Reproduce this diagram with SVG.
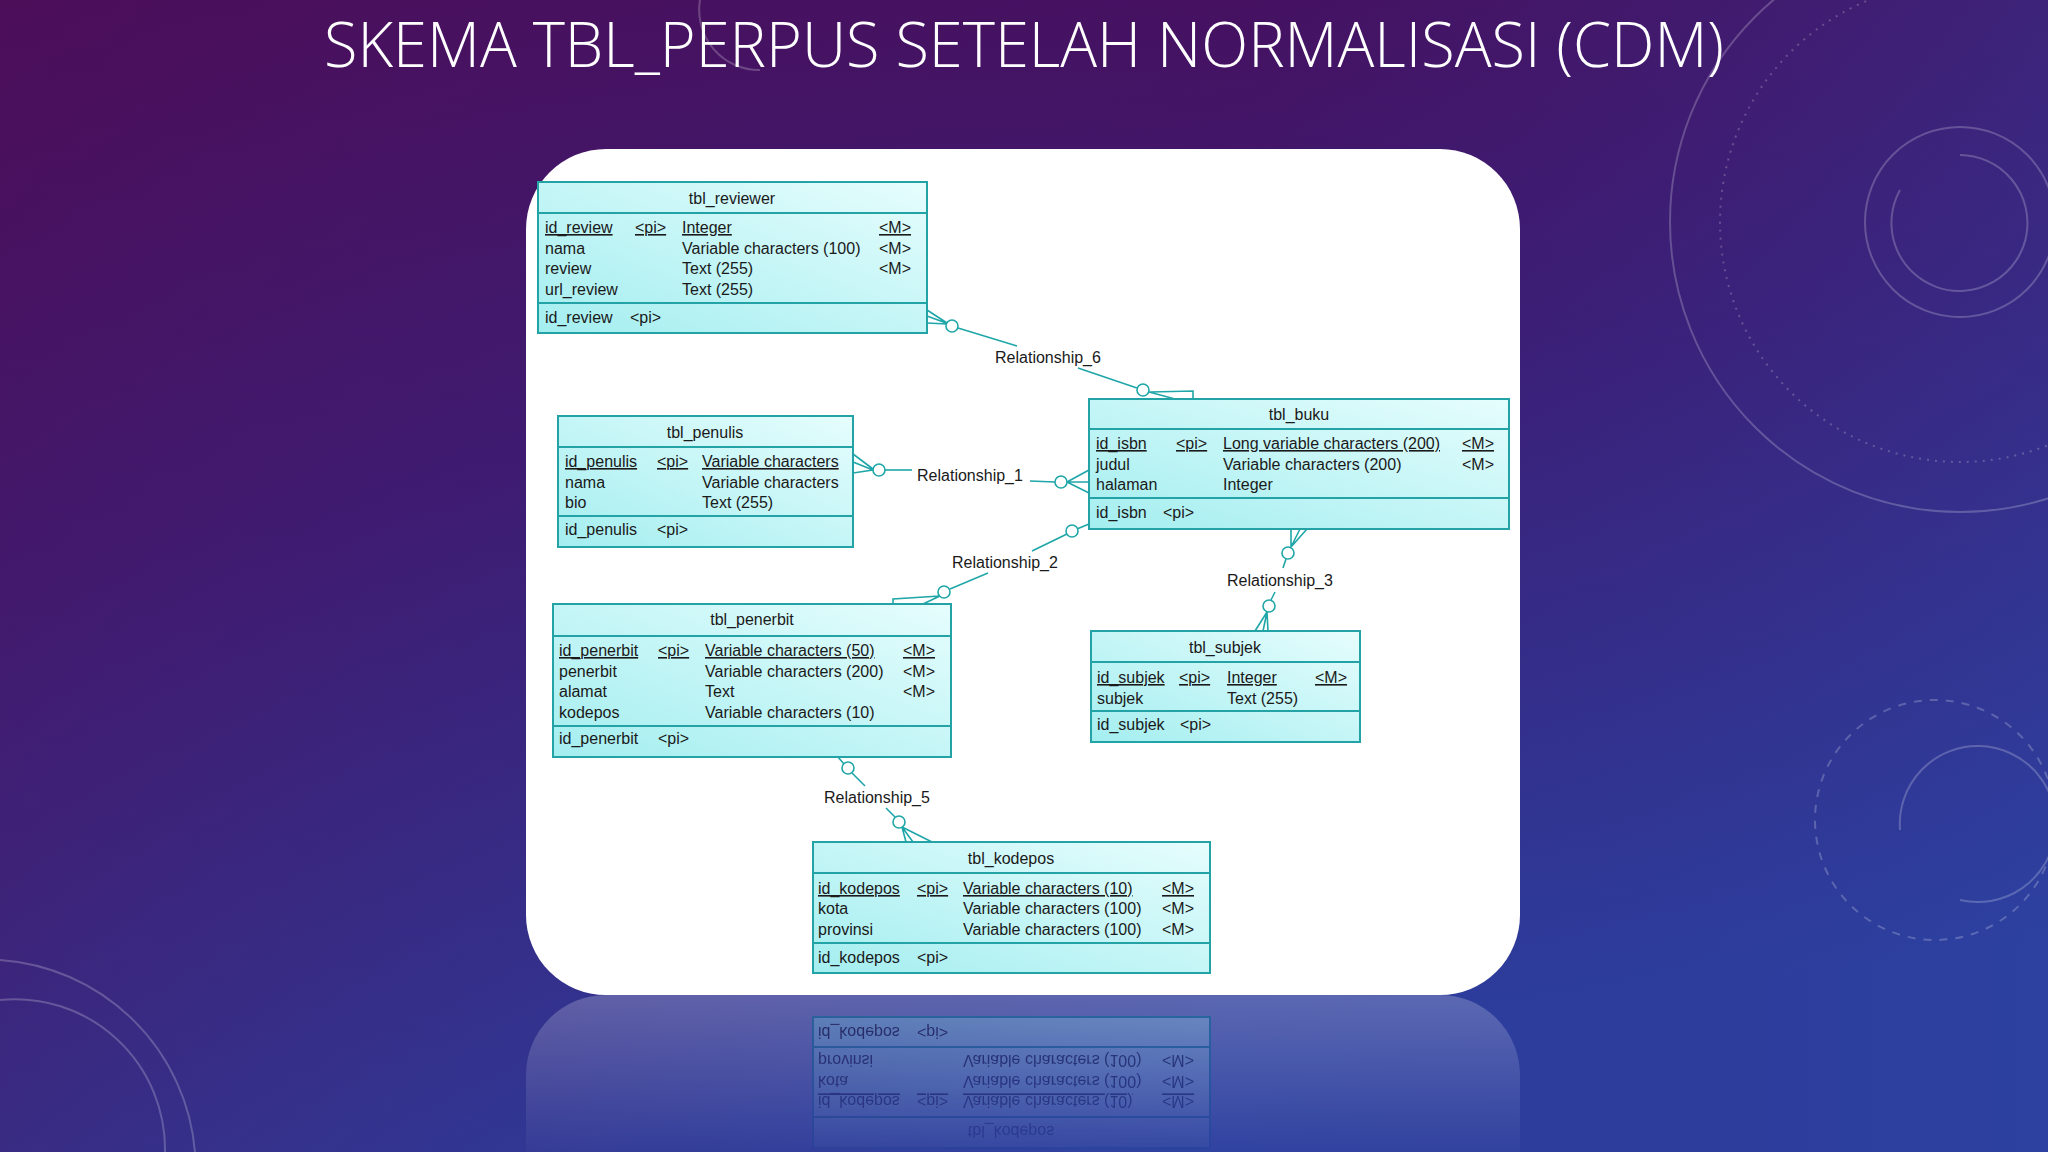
<svg xmlns="http://www.w3.org/2000/svg" xmlns:xlink="http://www.w3.org/1999/xlink" width="2048" height="1152" viewBox="0 0 2048 1152">
<defs>
<linearGradient id="bg" x1="0" y1="0" x2="0.25" y2="1">
<stop offset="0" stop-color="#4a0c58"/>
<stop offset="0.45" stop-color="#3c1c74"/>
<stop offset="1" stop-color="#2b3e9e"/>
</linearGradient>
<linearGradient id="bg2" x1="0" y1="0" x2="1" y2="0">
<stop offset="0" stop-color="#50105a" stop-opacity="0.35"/>
<stop offset="0.6" stop-color="#3a2a80" stop-opacity="0"/>
<stop offset="1" stop-color="#3048a8" stop-opacity="0.3"/>
</linearGradient>
<linearGradient id="tbl" x1="0" y1="1" x2="1" y2="0">
<stop offset="0" stop-color="#a4eef0"/>
<stop offset="1" stop-color="#e6fdfd"/>
</linearGradient>
<linearGradient id="fade" x1="0" y1="0" x2="0" y2="1">
<stop offset="0" stop-color="#fff" stop-opacity="0.45"/>
<stop offset="1" stop-color="#fff" stop-opacity="0.05"/>
</linearGradient>
<mask id="refmask" maskUnits="userSpaceOnUse" x="0" y="995" width="2048" height="157">
<rect x="0" y="995" width="2048" height="157" fill="url(#fade)"/>
</mask>
<style>
.tb rect{fill:url(#tbl);stroke:#23a3a6;stroke-width:2}
.tb line{stroke:#23a3a6;stroke-width:2}
.tb text{font-family:"Liberation Sans",Arial,sans-serif;font-size:16px;fill:#1a1a1a}
.tb .t{text-anchor:middle}
.tb .u{text-decoration:underline}
.cn path,.cn line{stroke:#1fa6a8;stroke-width:1.6;fill:none}
.cn circle{stroke:#1fa6a8;stroke-width:1.6;fill:#fff}
.cn text{font-family:"Liberation Sans",Arial,sans-serif;font-size:16px;fill:#1a1a1a;text-anchor:middle}
.deco{fill:none;stroke:#ffffff;stroke-opacity:0.22;stroke-width:2}
</style>
</defs>
<rect width="2048" height="1152" fill="url(#bg)"/>
<rect width="2048" height="1152" fill="url(#bg2)"/>
<g id="decor">
<circle class="deco" cx="1960" cy="222" r="290"/>
<circle class="deco" cx="1960" cy="222" r="240" stroke-dasharray="2 6" stroke-width="10" stroke-opacity="0.12"/>
<path class="deco" d="M1960 155 A68 68 0 1 1 1900 190" stroke-width="3"/>
<circle class="deco" cx="1960" cy="222" r="95"/>
<path class="deco" d="M1900 830 A78 78 0 1 1 1960 900" stroke-width="3"/>
<circle class="deco" cx="1935" cy="820" r="120" stroke-dasharray="8 8"/>
<path class="deco" d="M0 1000 A150 150 0 0 1 165 1152" stroke-width="3"/>
<path class="deco" d="M0 960 A210 210 0 0 1 195 1152"/>
<path class="deco" d="M700 0 A60 60 0 0 0 760 70" stroke-opacity="0.12"/>
</g>
<text x="1024" y="67" text-anchor="middle" font-family="'Open Sans','Liberation Sans',sans-serif" font-weight="300" font-size="62" fill="#ffffff" textLength="1400" lengthAdjust="spacingAndGlyphs">SKEMA TBL_PERPUS SETELAH NORMALISASI (CDM)</text>
<rect id="panel" x="526" y="149" width="994" height="846" rx="80" fill="#ffffff"/>
<g id="reflection" mask="url(#refmask)">
<rect x="526" y="995" width="994" height="300" rx="80" fill="#ffffff" opacity="0.5"/>
<use xlink:href="#tbl_kodepos" transform="translate(0,1990) scale(1,-1)"/>
</g>
<g id="connectors" class="cn">
<!-- Relationship_6 -->
<path d="M927 310 L947 323 M927 323 L947 324 M927 316 L946 323"/>
<circle cx="952" cy="326" r="6"/>
<line x1="958" y1="328" x2="1017" y2="346"/>
<text x="1048" y="363">Relationship_6</text>
<line x1="1078" y1="368" x2="1137" y2="388"/>
<circle cx="1143" cy="390" r="6"/>
<path d="M1149 392 L1175 399 M1150 392 L1193 391 L1193 399"/>
<!-- Relationship_1 -->
<path d="M853 454 L873 469 M853 462 L873 470 M853 473 L873 470"/>
<circle cx="879" cy="470" r="6"/>
<line x1="885" y1="470" x2="912" y2="470"/>
<text x="970" y="481">Relationship_1</text>
<line x1="1030" y1="481" x2="1055" y2="482"/>
<circle cx="1061" cy="482" r="6"/>
<path d="M1067 482 L1089 470 M1067 482 L1089 482 M1067 482 L1089 493"/>
<!-- Relationship_2 -->
<line x1="1089" y1="524" x2="1077" y2="529"/>
<circle cx="1072" cy="531" r="6"/>
<line x1="1067" y1="534" x2="1032" y2="551"/>
<text x="1005" y="568">Relationship_2</text>
<line x1="988" y1="573" x2="950" y2="589"/>
<circle cx="944" cy="592" r="6"/>
<path d="M940 596 L893 599 L893 604 M940 596 L923 604"/>
<!-- Relationship_3 -->
<path d="M1291 529 L1291 547 M1300 529 L1291 547 M1307 529 L1291 547"/>
<circle cx="1288" cy="553" r="6"/>
<line x1="1286" y1="559" x2="1283" y2="568"/>
<text x="1280" y="586">Relationship_3</text>
<line x1="1275" y1="592" x2="1271" y2="600"/>
<circle cx="1269" cy="606" r="6"/>
<path d="M1267 612 L1255 631 M1267 612 L1263 631 M1267 612 L1268 631"/>
<!-- Relationship_5 -->
<line x1="838" y1="757" x2="844" y2="764"/>
<circle cx="848" cy="768" r="6"/>
<line x1="852" y1="773" x2="865" y2="786"/>
<text x="877" y="803">Relationship_5</text>
<line x1="886" y1="808" x2="895" y2="817"/>
<circle cx="899" cy="822" r="6"/>
<path d="M902 827 L906 842 M902 827 L913 842 M902 827 L932 842"/>
</g>
<g id="tbl_reviewer" class="tb">
<rect x="538" y="182" width="389" height="151"/>
<line x1="538" y1="213" x2="927" y2="213"/>
<line x1="538" y1="303" x2="927" y2="303"/>
<text class="t" x="732" y="204">tbl_reviewer</text>
<text class="u" x="545" y="233">id_review</text><text class="u" x="635" y="233">&lt;pi&gt;</text><text class="u" x="682" y="233">Integer</text><text class="u" x="879" y="233">&lt;M&gt;</text>
<text x="545" y="254">nama</text><text x="682" y="254">Variable characters (100)</text><text x="879" y="254">&lt;M&gt;</text>
<text x="545" y="274">review</text><text x="682" y="274">Text (255)</text><text x="879" y="274">&lt;M&gt;</text>
<text x="545" y="295">url_review</text><text x="682" y="295">Text (255)</text>
<text x="545" y="323">id_review</text><text x="630" y="323">&lt;pi&gt;</text>
</g>
<g id="tbl_penulis" class="tb">
<rect x="558" y="416" width="295" height="131"/>
<line x1="558" y1="447" x2="853" y2="447"/>
<line x1="558" y1="516" x2="853" y2="516"/>
<text class="t" x="705" y="438">tbl_penulis</text>
<text class="u" x="565" y="467">id_penulis</text><text class="u" x="657" y="467">&lt;pi&gt;</text><text class="u" x="702" y="467">Variable characters</text>
<text x="565" y="488">nama</text><text x="702" y="488">Variable characters</text>
<text x="565" y="508">bio</text><text x="702" y="508">Text (255)</text>
<text x="565" y="535">id_penulis</text><text x="657" y="535">&lt;pi&gt;</text>
</g>
<g id="tbl_buku" class="tb">
<rect x="1089" y="399" width="420" height="130"/>
<line x1="1089" y1="429" x2="1509" y2="429"/>
<line x1="1089" y1="498" x2="1509" y2="498"/>
<text class="t" x="1299" y="420">tbl_buku</text>
<text class="u" x="1096" y="449">id_isbn</text><text class="u" x="1176" y="449">&lt;pi&gt;</text><text class="u" x="1223" y="449">Long variable characters (200)</text><text class="u" x="1462" y="449">&lt;M&gt;</text>
<text x="1096" y="470">judul</text><text x="1223" y="470">Variable characters (200)</text><text x="1462" y="470">&lt;M&gt;</text>
<text x="1096" y="490">halaman</text><text x="1223" y="490">Integer</text>
<text x="1096" y="518">id_isbn</text><text x="1163" y="518">&lt;pi&gt;</text>
</g>
<g id="tbl_penerbit" class="tb">
<rect x="553" y="604" width="398" height="153"/>
<line x1="553" y1="636" x2="951" y2="636"/>
<line x1="553" y1="726" x2="951" y2="726"/>
<text class="t" x="752" y="625">tbl_penerbit</text>
<text class="u" x="559" y="656">id_penerbit</text><text class="u" x="658" y="656">&lt;pi&gt;</text><text class="u" x="705" y="656">Variable characters (50)</text><text class="u" x="903" y="656">&lt;M&gt;</text>
<text x="559" y="677">penerbit</text><text x="705" y="677">Variable characters (200)</text><text x="903" y="677">&lt;M&gt;</text>
<text x="559" y="697">alamat</text><text x="705" y="697">Text</text><text x="903" y="697">&lt;M&gt;</text>
<text x="559" y="718">kodepos</text><text x="705" y="718">Variable characters (10)</text>
<text x="559" y="744">id_penerbit</text><text x="658" y="744">&lt;pi&gt;</text>
</g>
<g id="tbl_subjek" class="tb">
<rect x="1091" y="631" width="269" height="111"/>
<line x1="1091" y1="662" x2="1360" y2="662"/>
<line x1="1091" y1="711" x2="1360" y2="711"/>
<text class="t" x="1225" y="653">tbl_subjek</text>
<text class="u" x="1097" y="683">id_subjek</text><text class="u" x="1179" y="683">&lt;pi&gt;</text><text class="u" x="1227" y="683">Integer</text><text class="u" x="1315" y="683">&lt;M&gt;</text>
<text x="1097" y="704">subjek</text><text x="1227" y="704">Text (255)</text>
<text x="1097" y="730">id_subjek</text><text x="1180" y="730">&lt;pi&gt;</text>
</g>
<g id="tbl_kodepos" class="tb">
<rect x="813" y="842" width="397" height="131"/>
<line x1="813" y1="873" x2="1210" y2="873"/>
<line x1="813" y1="943" x2="1210" y2="943"/>
<text class="t" x="1011" y="864">tbl_kodepos</text>
<text class="u" x="818" y="894">id_kodepos</text><text class="u" x="917" y="894">&lt;pi&gt;</text><text class="u" x="963" y="894">Variable characters (10)</text><text class="u" x="1162" y="894">&lt;M&gt;</text>
<text x="818" y="914">kota</text><text x="963" y="914">Variable characters (100)</text><text x="1162" y="914">&lt;M&gt;</text>
<text x="818" y="935">provinsi</text><text x="963" y="935">Variable characters (100)</text><text x="1162" y="935">&lt;M&gt;</text>
<text x="818" y="963">id_kodepos</text><text x="917" y="963">&lt;pi&gt;</text>
</g>
</svg>
